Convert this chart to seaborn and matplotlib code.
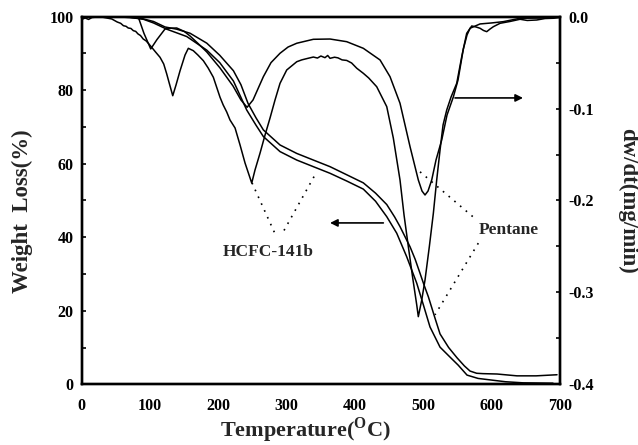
import matplotlib
matplotlib.use("Agg")
import matplotlib.pyplot as plt
import seaborn as sns
import pandas as pd
from matplotlib.ticker import MultipleLocator

# ---- TG curves: residual weight (%) vs temperature (oC) ----
pentane_tg_temp = [0, 40, 70, 90, 105, 122, 139, 158.5, 183, 202, 222, 233, 243.4, 255,
                   265.8, 290.2, 314.7, 339, 363.4, 387.8, 412.1, 430, 446.4, 458, 465.8,
                   473, 480.5, 488, 495.1, 501, 507.3, 512, 517, 524.4, 537, 549.3, 560,
                   568.3, 578, 587.3, 607.8, 637, 665, 695.6]
pentane_tg_wt = [100, 100, 99.8, 99.4, 98.7, 97.2, 96.6, 95.5, 92.8, 89.5, 85.3, 81.5, 76.4,
                 72.5, 69.2, 65.1, 62.8, 61.0, 59.2, 57.0, 54.8, 52.0, 48.9, 45.5, 42.9,
                 40.2, 37.4, 34.0, 30.2, 27.0, 23.8, 21.0, 18.0, 13.7, 10.0, 7.2, 5.0,
                 3.6, 3.0, 2.9, 2.8, 2.3, 2.3, 2.6]

hcfc_tg_temp = [0, 41.4, 70.7, 90.2, 105, 124.4, 153.7, 183, 202, 222, 241.5, 255, 265.8,
                290.2, 314.7, 339, 363.4, 387.8, 412.1, 430, 446.4, 461, 475.6, 490.3,
                500, 509.7, 524.4, 539, 551, 563.9, 580, 597.6, 620, 645.8, 689.7]
hcfc_tg_wt = [100, 100, 99.8, 99.3, 98.3, 96.6, 94.6, 90.9, 87.5, 82.5, 74.6, 70.5, 67.4,
              63.3, 61.0, 59.2, 57.4, 55.3, 53.1, 49.8, 45.6, 41.1, 34.7, 27.5,
              21.6, 15.6, 10.1, 7.4, 5.2, 2.5, 1.6, 1.2, 0.7, 0.4, 0.3]

# ---- DTG curves: dw/dt (mg/min) vs temperature (oC) ----
pentane_dtg_temp = [0, 27, 60, 82.9, 91, 101, 110, 121.9, 130, 139, 150, 158.5, 170, 183,
                    202.4, 221.4, 233, 242, 250.7, 265.8, 277, 290.2, 302, 314.7, 339,
                    363.4, 387.8, 412.1, 436.6, 451.2, 465.8, 480.5, 492.6, 498, 502.4,
                    506.8, 512.2, 518.5, 526.9, 534.6, 543.8, 550.7, 558.5, 563.9, 568.3,
                    582.9, 600, 617, 641.5, 670, 700]
pentane_dtg_rate = [0, -0.0003, -0.0003, -0.0007, -0.018, -0.0351, -0.025, -0.0134, -0.0125,
                    -0.0123, -0.016, -0.021, -0.029, -0.0384, -0.0558, -0.0754, -0.0906,
                    -0.0986, -0.0906, -0.0653, -0.050, -0.0398, -0.033, -0.0289, -0.0246,
                    -0.0243, -0.0272, -0.0344, -0.0471, -0.0653, -0.0942, -0.1415, -0.1777,
                    -0.1897, -0.194, -0.1897, -0.1777, -0.1559, -0.134, -0.107, -0.0874,
                    -0.0689, -0.0351, -0.0199, -0.0126, -0.0079, -0.0068, -0.0054, -0.0017,
                    -0.0015, -0.0007]

hcfc_dtg_temp = [0, 5, 10, 15, 27, 44, 52, 57, 61, 65, 68, 72, 75.5, 79, 82.4, 86, 90, 94, 97,
                 102.4, 108, 114.6, 120, 124.4, 128, 133.2, 138, 143.9, 151.2, 156, 163.3,
                 170, 178, 185, 192.6, 202.4, 207, 212.2, 217, 224.4, 231.7, 239, 248.8,
                 253.6, 260.9, 268.3, 275.6, 282.9, 290.2, 300, 314.7, 322, 330, 339, 345,
                 350, 356, 360, 363.4, 370, 375, 381, 387.8, 395, 402.5, 412.1, 420, 431.7,
                 446.4, 456, 465.8, 471.7, 478, 484.4, 490.3, 492.6, 497.6, 502.4, 508.7,
                 514.6, 519.5, 524.4, 528.8, 534.2, 540.5, 548.8, 556.6, 563.4, 570.8,
                 577.1, 582.9, 588, 592.7, 597.6, 602.4, 612.2, 626.8, 641.5, 652, 665.9,
                 678, 690.2, 700]
hcfc_dtg_rate = [-0.003, -0.0014, -0.003, -0.0009, 0, -0.0025, -0.0058, -0.0072, -0.0098,
                 -0.0105, -0.0123, -0.0128, -0.0152, -0.0160, -0.0188, -0.0205, -0.0243,
                 -0.0262, -0.0286, -0.0333, -0.0384, -0.0442, -0.0515, -0.0623, -0.0721,
                 -0.086, -0.0743, -0.0588, -0.0417, -0.0344, -0.037, -0.0417, -0.0479,
                 -0.0558, -0.0659, -0.0877, -0.0960, -0.1037, -0.1124, -0.1211, -0.1396,
                 -0.1592, -0.181, -0.1668, -0.1486, -0.1287, -0.1102, -0.0906, -0.0725,
                 -0.058, -0.049, -0.0470, -0.0455, -0.0439, -0.0450, -0.0428, -0.0446,
                 -0.0422, -0.0453, -0.0441, -0.0448, -0.0470, -0.0476, -0.0504, -0.0561,
                 -0.0616, -0.0667, -0.0762, -0.0979, -0.132, -0.1777, -0.2158, -0.2503,
                 -0.2843, -0.3137, -0.3264, -0.3083, -0.2865, -0.2503, -0.2139, -0.1777,
                 -0.145, -0.1178, -0.1015, -0.0874, -0.0725, -0.0417, -0.0181, -0.0101,
                 -0.0112, -0.0126, -0.0150, -0.0163, -0.0134, -0.0109, -0.0072, -0.0052,
                 -0.0028, -0.0041, -0.0036, -0.002, -0.0017, -0.0007]

x_ticks = [0, 100, 200, 300, 400, 500, 600, 700]
left_ticks = [0, 20, 40, 60, 80, 100]
right_ticks = [0.0, -0.1, -0.2, -0.3, -0.4]
right_tick_labels = ["0.0", "-0.1", "-0.2", "-0.3", "-0.4"]

sns.set_theme(style="white")
plt.rcParams["font.family"] = ["Liberation Serif", "DejaVu Serif"]
plt.rcParams["font.weight"] = "bold"
plt.rcParams["mathtext.fontset"] = "custom"
plt.rcParams["mathtext.rm"] = "Liberation Serif:bold"
plt.rcParams["mathtext.bf"] = "Liberation Serif:bold"
plt.rcParams["axes.unicode_minus"] = False

fig = plt.figure(figsize=(6.38, 4.45), dpi=100)
ax = fig.add_axes([0.1281, 0.1364, 0.7497, 0.8261])
ax2 = ax.twinx()

line_kw = dict(color="black", linewidth=1.1, sort=False, estimator=None, legend=False)

tg = pd.concat([
    pd.DataFrame({"T": pentane_tg_temp, "W": pentane_tg_wt, "foam": "Pentane"}),
    pd.DataFrame({"T": hcfc_tg_temp, "W": hcfc_tg_wt, "foam": "HCFC-141b"}),
])
dtg = pd.concat([
    pd.DataFrame({"T": pentane_dtg_temp, "R": pentane_dtg_rate, "foam": "Pentane"}),
    pd.DataFrame({"T": hcfc_dtg_temp, "R": hcfc_dtg_rate, "foam": "HCFC-141b"}),
])

for name, grp in tg.groupby("foam"):
    sns.lineplot(data=grp, x="T", y="W", ax=ax, **line_kw)
for name, grp in dtg.groupby("foam"):
    sns.lineplot(data=grp, x="T", y="R", ax=ax2, **line_kw)

ax.set_xlim(0, 700)
ax.set_ylim(0, 100)
ax2.set_ylim(-0.4, 0.0)

tick_font = dict(fontsize=11.5, fontweight="bold")
ax.set_xticks(x_ticks)
ax.set_xticklabels([str(t) for t in x_ticks], **tick_font)
ax.xaxis.set_minor_locator(MultipleLocator(25))
ax.set_yticks(left_ticks)
ax.set_yticklabels([str(t) for t in left_ticks], **tick_font)
ax.yaxis.set_minor_locator(MultipleLocator(10))
ax2.set_yticks(right_ticks)
ax2.set_yticklabels(right_tick_labels, **tick_font)
ax2.yaxis.set_minor_locator(MultipleLocator(0.05))

ax.tick_params(axis="x", which="both", direction="in", length=3, width=1.2,
               pad=10, top=False, colors="black")
ax.tick_params(axis="y", which="both", direction="in", length=3, width=1.2,
               pad=6, right=False, colors="black")
ax2.tick_params(axis="y", which="both", direction="in", length=3, width=1.2,
                pad=6, left=False, colors="black")

for a in (ax, ax2):
    for sp in a.spines.values():
        sp.set_color("black")
        sp.set_linewidth(1.7)

ax.set_xlabel(r"Temperature($^{\mathbf{O}}$C)", fontsize=16, fontweight="bold")
ax.xaxis.set_label_coords(0.468, -0.1434)
ax.xaxis.label.set_va("baseline")
ax.set_ylabel("Weight  Loss(%)", fontsize=16.5, fontweight="bold")
ax.yaxis.set_label_coords(-0.123, 0.471)
ax.yaxis.label.set_va("center")
ax2.set_ylabel("dw/dt(mg/min)", fontsize=16.5, fontweight="bold", rotation=270)
ax2.yaxis.set_label_coords(1.142, 0.5)
ax2.yaxis.label.set_va("center")
ax2.yaxis.label.set_ha("center")

# foam labels with dotted leaders
dot_kw = dict(color="black", linewidth=1.2, linestyle=(0, (1, 3.5)))
ax.plot([249.2, 284.0], [54.8, 40.5], **dot_kw)
ax.plot([340.0, 292.0], [56.5, 40.5], **dot_kw)
ax.text(272.6, 36.0, "HCFC-141b", ha="center", va="center", fontsize=12.5, fontweight="bold")
ax.plot([495.1, 578.1], [57.8, 44.7], **dot_kw)
ax.plot([580.4, 517.0], [38.4, 18.9], **dot_kw)
ax.text(625.4, 42.0, "Pentane", ha="center", va="center", fontsize=12.5, fontweight="bold")

# arrows pointing to the axis each curve pair belongs to
arrow_kw = dict(arrowstyle="-|>", color="black", lw=1.2, mutation_scale=11,
                shrinkA=0, shrinkB=0)
ax.annotate("", xy=(363.4, 43.9), xytext=(441.4, 43.9), arrowprops=arrow_kw)
ax.annotate("", xy=(645.8, 77.9), xytext=(546.3, 77.9), arrowprops=arrow_kw)

fig.savefig("out.png", dpi=100)
